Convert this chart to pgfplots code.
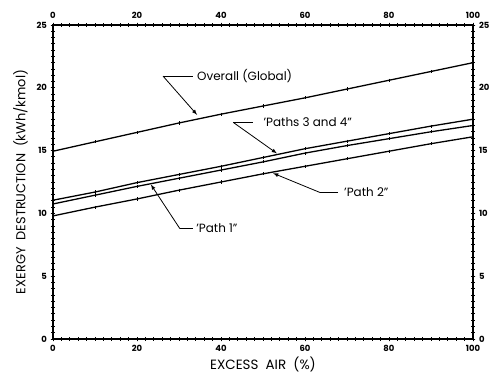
\documentclass[border=0pt]{standalone}
\usepackage{pgfplots}
\pgfplotsset{compat=1.18}
\usepackage{fontspec}
\setmainfont{Poppins}
\begin{document}
\begin{tikzpicture}
\pgfplotsset{
  common/.style={
    scale only axis, width=420bp, height=314bp,
    xmin=0, xmax=100, ymin=0, ymax=25,
    xtick={0,20,...,100}, ytick={0,5,...,25},
    minor x tick num=9, minor y tick num=9,
    tick align=center,
    major tick length=5pt, minor tick length=3.5pt,
    every tick/.style={black, line width=0.9pt},
    axis line style={line width=1.3pt},
    tick label style={font=\fontsize{8.5}{9}\selectfont\bfseries},
    /pgf/number format/assume math mode=true,
  },
  pl/.style={black, line width=1.3pt, mark=|, mark size=1.6pt, mark options={line width=0.8pt, solid}},
}
\begin{axis}[common,
  xlabel={EXCESS\ \ AIR\ \ (\%)},
  ylabel={EXERGY\ \ DESTRUCTION\ \ (kWh/kmol)},
  xlabel style={font=\fontsize{13.5}{14}\selectfont, yshift=1pt},
  ylabel style={font=\fontsize{13}{14}\selectfont, yshift=2pt},
  clip=false,
]
% Overall (Global)
\addplot[pl] coordinates {(0,14.95) (10,15.7) (20,16.45) (30,17.2) (40,17.9) (50,18.55) (60,19.2) (70,19.9) (80,20.6) (90,21.3) (100,22.0)};
% Paths 3 and 4
\addplot[pl] coordinates {(0,11.05) (10,11.7) (20,12.45) (30,13.1) (40,13.75) (50,14.45) (60,15.15) (70,15.75) (80,16.35) (90,16.95) (100,17.5)};
% Path 1
\addplot[pl] coordinates {(0,10.75) (10,11.45) (20,12.15) (30,12.8) (40,13.45) (50,14.1) (60,14.8) (70,15.4) (80,15.95) (90,16.5) (100,17.0)};
% Path 2
\addplot[pl] coordinates {(0,9.8) (10,10.5) (20,11.15) (30,11.85) (40,12.5) (50,13.15) (60,13.75) (70,14.35) (80,14.95) (90,15.55) (100,16.1)};

\begin{scope}[line width=0.8pt, font=\fontsize{12}{13}\selectfont]
\draw (axis cs:33.3,20.93) -- (axis cs:26.2,20.93);
\draw[-latex] (axis cs:26.2,20.93) -- (axis cs:34.3,17.85);
\node[anchor=west, inner sep=1pt] at (axis cs:34.0,20.93) {Overall (Global)};

\draw (axis cs:47.6,17.25) -- (axis cs:42.9,17.25);
\draw[-latex] (axis cs:42.9,17.25) -- (axis cs:53.3,14.78);
\node[anchor=west, inner sep=1pt] at (axis cs:49.8,17.25) {'Paths 3 and 4"};

\draw (axis cs:67.9,11.66) -- (axis cs:63.6,11.66);
\draw[-latex] (axis cs:63.6,11.66) -- (axis cs:52.4,13.2);
\node[anchor=west, inner sep=1pt] at (axis cs:69.0,11.66) {'Path 2"};

\draw (axis cs:33.3,8.79) -- (axis cs:30.2,8.79);
\draw[-latex] (axis cs:30.2,8.79) -- (axis cs:23.3,12.3);
\node[anchor=west, inner sep=1pt] at (axis cs:33.8,8.79) {'Path 1"};
\end{scope}
\end{axis}
\begin{axis}[common,
  xticklabel pos=upper, yticklabel pos=right,
]
\end{axis}
\pgfresetboundingbox
\useasboundingbox (-53bp,-35bp) rectangle (444bp,339bp);
\end{tikzpicture}
\end{document}
